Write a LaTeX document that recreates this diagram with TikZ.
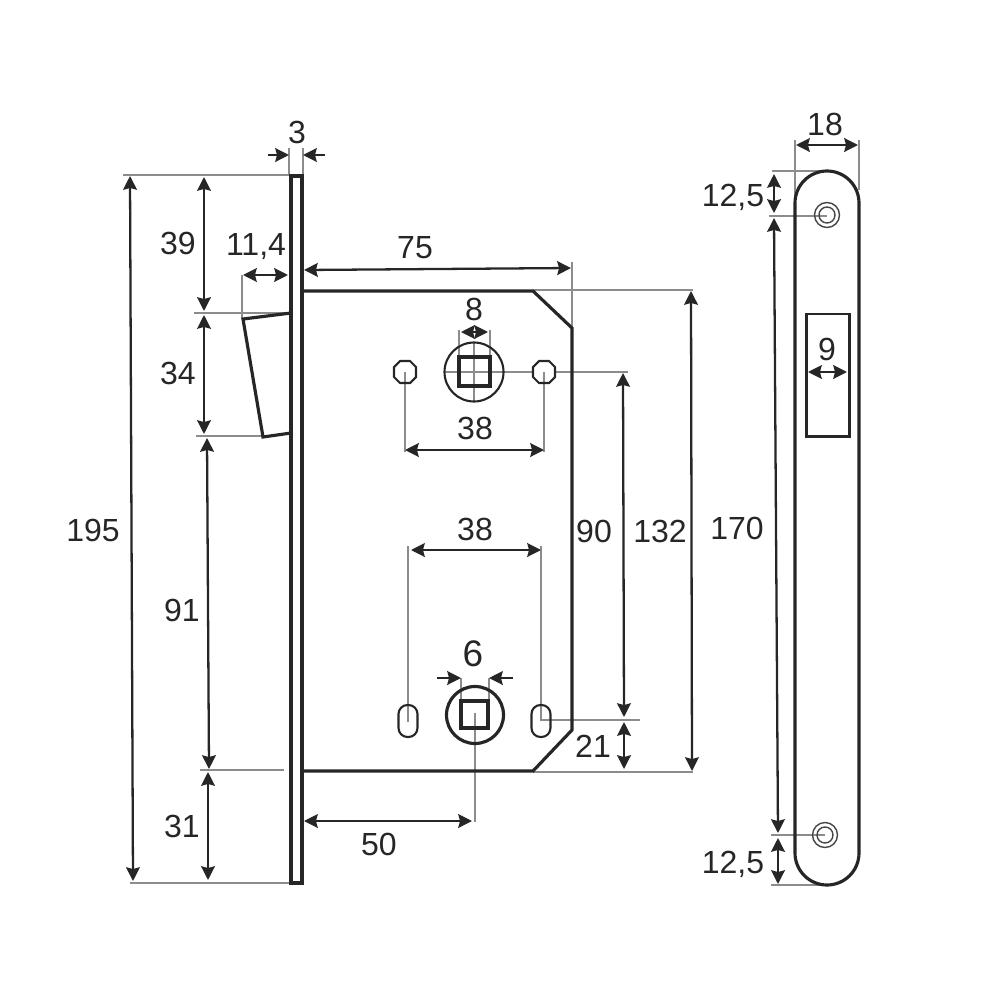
\documentclass[tikz,border=0pt]{standalone}
\usepackage{fontspec}
\setmainfont{Liberation Sans}
\usetikzlibrary{arrows.meta}
\definecolor{ink}{HTML}{262626}
\definecolor{ext}{HTML}{8C8C8C}
\tikzset{
  part/.style={draw=ink,line width=0.9pt,line join=miter},
  partthin/.style={draw=ink,line width=0.6pt},
  rectpart/.style={draw=ink,line width=0.85pt},
  thinline/.style={draw=ink!85,line width=0.4pt},
  extline/.style={draw=ext,line width=0.35pt},
  dimline/.style={draw=ink,line width=0.65pt},
  dimboth/.style={dimline,{Stealth[length=3.9pt,width=3.9pt,inset=0.5pt]}-{Stealth[length=3.9pt,width=3.9pt,inset=0.5pt]}},
  dimto/.style={dimline,-{Stealth[length=3.9pt,width=3.9pt,inset=0.5pt]}},
  lab/.style={text=ink,font=\fontsize{9.1pt}{10pt}\selectfont,inner sep=0pt},
}
\begin{document}
\begin{tikzpicture}[x=0.01cm,y=-0.01cm]
\useasboundingbox (0,0) rectangle (1000,1000);
% extension lines
\draw[extline] (123,175)--(291,175);
\draw[extline] (130,883)--(291,883);
\draw[extline] (289,148)--(289,175);
\draw[extline] (303,148)--(303,175);
\draw[extline] (194,313)--(291,313);
\draw[extline] (196,436)--(263,436);
\draw[extline] (200,770)--(284,770);
\draw[extline] (242,275)--(242,319);
\draw[extline] (572,262)--(572,328);
\draw[extline] (533,290)--(693,290);
\draw[extline] (533,772)--(693,772);
\draw[extline] (445,372)--(533,372);
\draw[extline] (555,372)--(628,372);
\draw[extline] (474,342)--(474,402);
\draw[extline] (405,372)--(405,452);
\draw[extline] (544,372)--(544,452);
\draw[extline] (459,330)--(459,357);
\draw[extline] (490,330)--(490,357);
\draw[extline] (408,546)--(408,722);
\draw[extline] (541,546)--(541,720)--(640,720);
\draw[extline] (461,678)--(461,701);
\draw[extline] (489,678)--(489,701);
\draw[extline] (475,713)--(475,822);
\draw[extline] (795,140)--(795,200);
\draw[extline] (859,140)--(859,190);
\draw[extline] (772,171)--(827,171);
\draw[extline] (769,216)--(827,216);
\draw[extline] (771,835)--(825,835);
\draw[extline] (771,885)--(822,885);
% lock: faceplate, body, latch
\draw[part] (291,176) rectangle (302,883);
\draw[part] (302,291)--(533,291)--(572,328)--(572,730)--(533,771)--(302,771);
\draw[part] (291,313)--(243,319)--(263,437)--(291,433);
% upper follower and holes
\draw[partthin] (474,372) circle (29.5);
\draw[part] (459,357) rectangle (490,386);
\foreach \c in {405,544}{
  \draw[partthin] (\c-5,361)--(\c+5,361)--(\c+11,367)--(\c+11,377)--(\c+5,383)--(\c-5,383)--(\c-11,377)--(\c-11,367)--cycle;
}
% lower follower and slots
\draw[part] (475,715) circle (28.5);
\draw[part] (461,701) rectangle (488,728);
\foreach \c in {408,541}{
  \draw[partthin,rounded corners=0.09cm] (\c-9.5,705) rectangle (\c+9.5,737);
}
% strike plate
\draw[part] (795,203) arc (180:360:32)--(859,853) arc (0:180:32)--cycle;
\draw[rectpart] (806,314) rectangle (849,436);
\draw[thinline] (827,215) circle (12.5);
\draw[thinline] (827,215) circle (8);
\draw[thinline] (825,835) circle (12.5);
\draw[thinline] (825,835) circle (8);
% dimension arrows
\draw[dimboth] (130,176)--(133,881);
\draw[dimboth] (204,177)--(204,311);
\draw[dimboth] (204,315)--(204,434);
\draw[dimboth] (207,438)--(209,769);
\draw[dimboth] (208,772)--(208,880);
\draw[dimboth] (243,275)--(288,275);
\draw[dimto] (268,155)--(289,155);
\draw[dimto] (325,155)--(303,155);
\draw[dimboth] (304,270)--(571,268);
\draw[dimboth] (461,332)--(488,332);
\draw[dimboth] (405,450)--(544,450);
\draw[dimboth] (411,550)--(541,550);
\draw[dimto] (437,678)--(461,678);
\draw[dimto] (513,678)--(489,678);
\draw[dimboth] (304,821)--(472,821);
\draw[dimboth] (623,373)--(624,717);
\draw[dimboth] (624,722)--(624,769);
\draw[dimboth] (691,291)--(692,771);
\draw[dimboth] (796,145)--(858,145);
\draw[dimboth] (774,174)--(774,213);
\draw[dimboth] (774,218)--(778,833);
\draw[dimboth] (778,838)--(778,884);
\draw[dimboth] (808,372)--(847,372);
% labels
\node[lab] (l3) at (297,132) {3};
\node[lab] (l195) at (93,530) {195};
\node[lab] (l39) at (178,243) {39};
\node[lab] (l114) at (256,247) {11,4};
\node[lab] (l34) at (178,373) {34};
\node[lab] (l91) at (182,610) {91};
\node[lab] (l31) at (182,826) {31};
\node[lab] (l75) at (415,248) {75};
\node[lab] (l8) at (474,309) {8};
\node[lab] (l38a) at (475,428) {38};
\node[lab] (l38b) at (475,529) {38};
\node[lab,font=\fontsize{10.5pt}{11pt}\selectfont] (l6) at (473,654) {6};
\node[lab] (l50) at (379,844) {50};
\node[lab] (l90) at (594,531) {90};
\node[lab] (l132) at (660,531) {132};
\node[lab] (l21) at (593,746) {21};
\node[lab] (l170) at (737,528) {170};
\node[lab] (l18) at (825,124) {18};
\node[lab] (l125a) at (733,197) {12,5};
\node[lab] (l125b) at (733,864) {12,5};
\node[lab] (l9) at (827,349) {9};
\end{tikzpicture}
\end{document}
